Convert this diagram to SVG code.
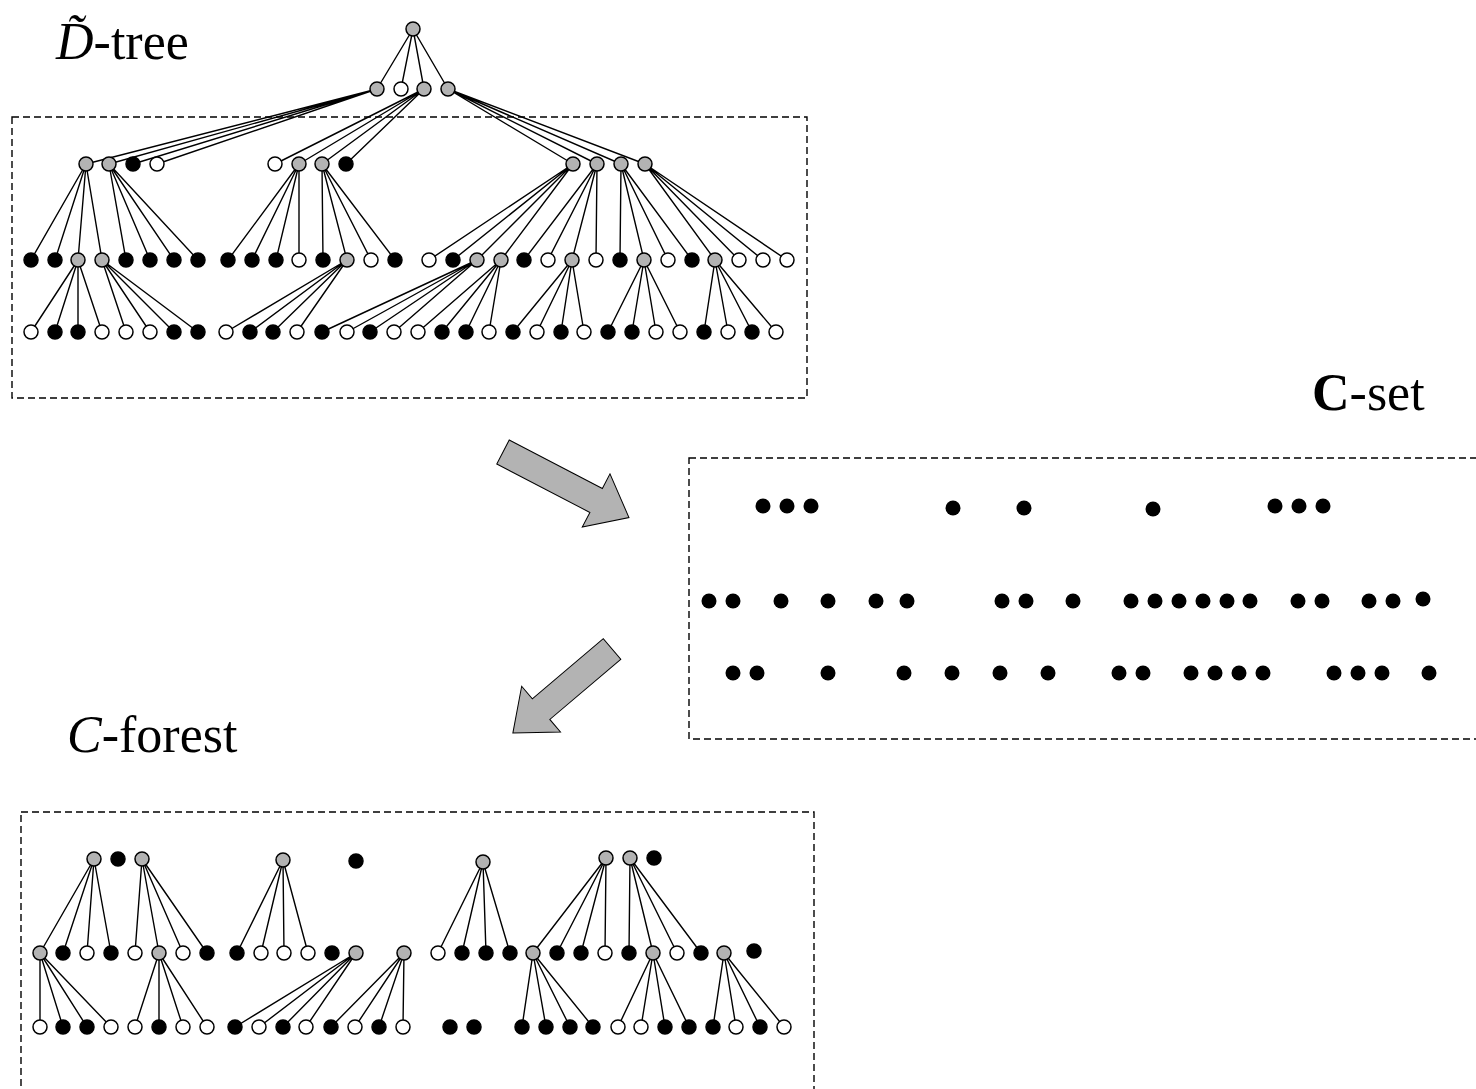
<svg xmlns="http://www.w3.org/2000/svg" width="1476" height="1089" viewBox="0 0 1476 1089">
<style>
.g{fill:#b3b3b3;stroke:#000;stroke-width:1.5}
.w{fill:#fff;stroke:#000;stroke-width:1.5}
.b{fill:#000;stroke:#000;stroke-width:1.5}
.d{fill:#000}
.box{fill:none;stroke:#000;stroke-width:1.4;stroke-dasharray:7,4}
.arrow{fill:#b3b3b3;stroke:#000;stroke-width:1}
.lbl{font-family:"Liberation Serif","Times New Roman",serif;font-size:52px;fill:#000}
#connectors path{fill:none;stroke:#000;stroke-width:1.4}
</style>
<rect width="1476" height="1089" fill="#fff"/>
<rect class="box" x="12" y="117" width="795" height="281"/>
<rect class="box" x="689" y="458" width="800" height="281"/>
<rect class="box" x="21" y="812" width="793" height="290"/>
<g id="label-dtree"><text class="lbl" x="56" y="59"><tspan font-style="italic">D&#x303;</tspan>-tree</text></g>
<g id="label-cset"><text class="lbl" x="1312" y="410"><tspan font-weight="bold">C</tspan>-set</text></g>
<g id="label-cforest"><text class="lbl" x="67" y="752"><tspan font-style="italic">C</tspan>-forest</text></g>
<g id="arrow1"><polygon class="arrow" transform="translate(503,452) rotate(27.5)" points="0,-13.5 105,-13.5 105,-30 142,0 105,30 105,13.5 0,13.5"/></g>
<g id="arrow2"><polygon class="arrow" transform="translate(612,649) rotate(139.7)" points="0,-13.5 93,-13.5 93,-30 130,0 93,30 93,13.5 0,13.5"/></g>
<g id="connectors">
<path d="M413,29L377,89M413,29L401,89M413,29L424,89M413,29L448,89"/>
<path d="M377,89L86,164M377,89L109,164M377,89L133,164M377,89L157,164"/>
<path d="M424,89L275,164M424,89L299,164M424,89L322,164M424,89L346,164"/>
<path d="M448,89L573,164M448,89L597,164M448,89L621,164M448,89L645,164"/>
<path d="M86,164L31,260M86,164L55,260M86,164L78,260M86,164L102,260"/>
<path d="M109,164L126,260M109,164L150,260M109,164L174,260M109,164L198,260"/>
<path d="M299,164L228,260M299,164L252,260M299,164L276,260M299,164L299,260"/>
<path d="M322,164L323,260M322,164L347,260M322,164L371,260M322,164L395,260"/>
<path d="M573,164L429,260M573,164L453,260M573,164L477,260M573,164L501,260"/>
<path d="M597,164L524,260M597,164L548,260M597,164L572,260M597,164L596,260"/>
<path d="M621,164L620,260M621,164L644,260M621,164L668,260M621,164L692,260"/>
<path d="M645,164L715,260M645,164L739,260M645,164L763,260M645,164L787,260"/>
<path d="M78,260L31,332M78,260L55,332M78,260L78,332M78,260L102,332"/>
<path d="M102,260L126,332M102,260L150,332M102,260L174,332M102,260L198,332"/>
<path d="M347,260L226,332M347,260L250,332M347,260L273,332M347,260L297,332"/>
<path d="M477,260L322,332M477,260L347,332M477,260L370,332M477,260L394,332"/>
<path d="M501,260L418,332M501,260L442,332M501,260L466,332M501,260L489,332"/>
<path d="M572,260L513,332M572,260L537,332M572,260L561,332M572,260L584,332"/>
<path d="M644,260L608,332M644,260L632,332M644,260L656,332M644,260L680,332"/>
<path d="M715,260L704,332M715,260L728,332M715,260L752,332M715,260L776,332"/>
<path d="M94,859L40,953M94,859L63,953M94,859L87,953M94,859L111,953"/>
<path d="M142,859L135,953M142,859L159,953M142,859L183,953M142,859L207,953"/>
<path d="M283,860L237,953M283,860L261,953M283,860L284,953M283,860L308,953"/>
<path d="M483,862L438,953M483,862L462,953M483,862L486,953M483,862L510,953"/>
<path d="M606,858L533,953M606,858L557,953M606,858L581,953M606,858L605,953"/>
<path d="M630,858L629,953M630,858L653,953M630,858L677,953M630,858L701,953"/>
<path d="M40,953L40,1027M40,953L63,1027M40,953L87,1027M40,953L111,1027"/>
<path d="M159,953L135,1027M159,953L159,1027M159,953L183,1027M159,953L207,1027"/>
<path d="M356,953L235,1027M356,953L259,1027M356,953L283,1027M356,953L306,1027"/>
<path d="M404,953L331,1027M404,953L355,1027M404,953L379,1027M404,953L403,1027"/>
<path d="M533,953L522,1027M533,953L546,1027M533,953L570,1027M533,953L593,1027"/>
<path d="M653,953L618,1027M653,953L641,1027M653,953L665,1027M653,953L689,1027"/>
<path d="M724,953L713,1027M724,953L736,1027M724,953L760,1027M724,953L784,1027"/>
</g>
<g id="tree-nodes">
<g id="t0"><circle class="g" cx="413" cy="29" r="7"/></g>
<g id="t1-377"><circle class="g" cx="377" cy="89" r="7"/></g>
<g id="t1-401"><circle class="w" cx="401" cy="89" r="7"/></g>
<g id="t1-424"><circle class="g" cx="424" cy="89" r="7"/></g>
<g id="t1-448"><circle class="g" cx="448" cy="89" r="7"/></g>
<g id="t2-86"><circle class="g" cx="86" cy="164" r="7"/></g>
<g id="t2-109"><circle class="g" cx="109" cy="164" r="7"/></g>
<g id="t2-133"><circle class="b" cx="133" cy="164" r="7"/></g>
<g id="t2-157"><circle class="w" cx="157" cy="164" r="7"/></g>
<g id="t2-275"><circle class="w" cx="275" cy="164" r="7"/></g>
<g id="t2-299"><circle class="g" cx="299" cy="164" r="7"/></g>
<g id="t2-322"><circle class="g" cx="322" cy="164" r="7"/></g>
<g id="t2-346"><circle class="b" cx="346" cy="164" r="7"/></g>
<g id="t2-573"><circle class="g" cx="573" cy="164" r="7"/></g>
<g id="t2-597"><circle class="g" cx="597" cy="164" r="7"/></g>
<g id="t2-621"><circle class="g" cx="621" cy="164" r="7"/></g>
<g id="t2-645"><circle class="g" cx="645" cy="164" r="7"/></g>
<g id="t3-31"><circle class="b" cx="31" cy="260" r="7"/></g>
<g id="t3-55"><circle class="b" cx="55" cy="260" r="7"/></g>
<g id="t3-78"><circle class="g" cx="78" cy="260" r="7"/></g>
<g id="t3-102"><circle class="g" cx="102" cy="260" r="7"/></g>
<g id="t3-126"><circle class="b" cx="126" cy="260" r="7"/></g>
<g id="t3-150"><circle class="b" cx="150" cy="260" r="7"/></g>
<g id="t3-174"><circle class="b" cx="174" cy="260" r="7"/></g>
<g id="t3-198"><circle class="b" cx="198" cy="260" r="7"/></g>
<g id="t3-228"><circle class="b" cx="228" cy="260" r="7"/></g>
<g id="t3-252"><circle class="b" cx="252" cy="260" r="7"/></g>
<g id="t3-276"><circle class="b" cx="276" cy="260" r="7"/></g>
<g id="t3-299"><circle class="w" cx="299" cy="260" r="7"/></g>
<g id="t3-323"><circle class="b" cx="323" cy="260" r="7"/></g>
<g id="t3-347"><circle class="g" cx="347" cy="260" r="7"/></g>
<g id="t3-371"><circle class="w" cx="371" cy="260" r="7"/></g>
<g id="t3-395"><circle class="b" cx="395" cy="260" r="7"/></g>
<g id="t3-429"><circle class="w" cx="429" cy="260" r="7"/></g>
<g id="t3-453"><circle class="b" cx="453" cy="260" r="7"/></g>
<g id="t3-477"><circle class="g" cx="477" cy="260" r="7"/></g>
<g id="t3-501"><circle class="g" cx="501" cy="260" r="7"/></g>
<g id="t3-524"><circle class="b" cx="524" cy="260" r="7"/></g>
<g id="t3-548"><circle class="w" cx="548" cy="260" r="7"/></g>
<g id="t3-572"><circle class="g" cx="572" cy="260" r="7"/></g>
<g id="t3-596"><circle class="w" cx="596" cy="260" r="7"/></g>
<g id="t3-620"><circle class="b" cx="620" cy="260" r="7"/></g>
<g id="t3-644"><circle class="g" cx="644" cy="260" r="7"/></g>
<g id="t3-668"><circle class="w" cx="668" cy="260" r="7"/></g>
<g id="t3-692"><circle class="b" cx="692" cy="260" r="7"/></g>
<g id="t3-715"><circle class="g" cx="715" cy="260" r="7"/></g>
<g id="t3-739"><circle class="w" cx="739" cy="260" r="7"/></g>
<g id="t3-763"><circle class="w" cx="763" cy="260" r="7"/></g>
<g id="t3-787"><circle class="w" cx="787" cy="260" r="7"/></g>
<g id="t4-31"><circle class="w" cx="31" cy="332" r="7"/></g>
<g id="t4-55"><circle class="b" cx="55" cy="332" r="7"/></g>
<g id="t4-78"><circle class="b" cx="78" cy="332" r="7"/></g>
<g id="t4-102"><circle class="w" cx="102" cy="332" r="7"/></g>
<g id="t4-126"><circle class="w" cx="126" cy="332" r="7"/></g>
<g id="t4-150"><circle class="w" cx="150" cy="332" r="7"/></g>
<g id="t4-174"><circle class="b" cx="174" cy="332" r="7"/></g>
<g id="t4-198"><circle class="b" cx="198" cy="332" r="7"/></g>
<g id="t4-226"><circle class="w" cx="226" cy="332" r="7"/></g>
<g id="t4-250"><circle class="b" cx="250" cy="332" r="7"/></g>
<g id="t4-273"><circle class="b" cx="273" cy="332" r="7"/></g>
<g id="t4-297"><circle class="w" cx="297" cy="332" r="7"/></g>
<g id="t4-322"><circle class="b" cx="322" cy="332" r="7"/></g>
<g id="t4-347"><circle class="w" cx="347" cy="332" r="7"/></g>
<g id="t4-370"><circle class="b" cx="370" cy="332" r="7"/></g>
<g id="t4-394"><circle class="w" cx="394" cy="332" r="7"/></g>
<g id="t4-418"><circle class="w" cx="418" cy="332" r="7"/></g>
<g id="t4-442"><circle class="b" cx="442" cy="332" r="7"/></g>
<g id="t4-466"><circle class="b" cx="466" cy="332" r="7"/></g>
<g id="t4-489"><circle class="w" cx="489" cy="332" r="7"/></g>
<g id="t4-513"><circle class="b" cx="513" cy="332" r="7"/></g>
<g id="t4-537"><circle class="w" cx="537" cy="332" r="7"/></g>
<g id="t4-561"><circle class="b" cx="561" cy="332" r="7"/></g>
<g id="t4-584"><circle class="w" cx="584" cy="332" r="7"/></g>
<g id="t4-608"><circle class="b" cx="608" cy="332" r="7"/></g>
<g id="t4-632"><circle class="b" cx="632" cy="332" r="7"/></g>
<g id="t4-656"><circle class="w" cx="656" cy="332" r="7"/></g>
<g id="t4-680"><circle class="w" cx="680" cy="332" r="7"/></g>
<g id="t4-704"><circle class="b" cx="704" cy="332" r="7"/></g>
<g id="t4-728"><circle class="w" cx="728" cy="332" r="7"/></g>
<g id="t4-752"><circle class="b" cx="752" cy="332" r="7"/></g>
<g id="t4-776"><circle class="w" cx="776" cy="332" r="7"/></g>
</g>
<g id="cset-nodes">
<g id="c1-763"><circle class="d" cx="763" cy="506" r="7.5"/></g>
<g id="c1-787"><circle class="d" cx="787" cy="506" r="7.5"/></g>
<g id="c1-811"><circle class="d" cx="811" cy="506" r="7.5"/></g>
<g id="c1-953"><circle class="d" cx="953" cy="508" r="7.5"/></g>
<g id="c1-1024"><circle class="d" cx="1024" cy="508" r="7.5"/></g>
<g id="c1-1153"><circle class="d" cx="1153" cy="509" r="7.5"/></g>
<g id="c1-1275"><circle class="d" cx="1275" cy="506" r="7.5"/></g>
<g id="c1-1299"><circle class="d" cx="1299" cy="506" r="7.5"/></g>
<g id="c1-1323"><circle class="d" cx="1323" cy="506" r="7.5"/></g>
<g id="c2-709"><circle class="d" cx="709" cy="601" r="7.5"/></g>
<g id="c2-733"><circle class="d" cx="733" cy="601" r="7.5"/></g>
<g id="c2-781"><circle class="d" cx="781" cy="601" r="7.5"/></g>
<g id="c2-828"><circle class="d" cx="828" cy="601" r="7.5"/></g>
<g id="c2-876"><circle class="d" cx="876" cy="601" r="7.5"/></g>
<g id="c2-907"><circle class="d" cx="907" cy="601" r="7.5"/></g>
<g id="c2-1002"><circle class="d" cx="1002" cy="601" r="7.5"/></g>
<g id="c2-1026"><circle class="d" cx="1026" cy="601" r="7.5"/></g>
<g id="c2-1073"><circle class="d" cx="1073" cy="601" r="7.5"/></g>
<g id="c2-1131"><circle class="d" cx="1131" cy="601" r="7.5"/></g>
<g id="c2-1155"><circle class="d" cx="1155" cy="601" r="7.5"/></g>
<g id="c2-1179"><circle class="d" cx="1179" cy="601" r="7.5"/></g>
<g id="c2-1203"><circle class="d" cx="1203" cy="601" r="7.5"/></g>
<g id="c2-1227"><circle class="d" cx="1227" cy="601" r="7.5"/></g>
<g id="c2-1250"><circle class="d" cx="1250" cy="601" r="7.5"/></g>
<g id="c2-1298"><circle class="d" cx="1298" cy="601" r="7.5"/></g>
<g id="c2-1322"><circle class="d" cx="1322" cy="601" r="7.5"/></g>
<g id="c2-1369"><circle class="d" cx="1369" cy="601" r="7.5"/></g>
<g id="c2-1393"><circle class="d" cx="1393" cy="601" r="7.5"/></g>
<g id="c2-1423"><circle class="d" cx="1423" cy="599" r="7.5"/></g>
<g id="c3-733"><circle class="d" cx="733" cy="673" r="7.5"/></g>
<g id="c3-757"><circle class="d" cx="757" cy="673" r="7.5"/></g>
<g id="c3-828"><circle class="d" cx="828" cy="673" r="7.5"/></g>
<g id="c3-904"><circle class="d" cx="904" cy="673" r="7.5"/></g>
<g id="c3-952"><circle class="d" cx="952" cy="673" r="7.5"/></g>
<g id="c3-1000"><circle class="d" cx="1000" cy="673" r="7.5"/></g>
<g id="c3-1048"><circle class="d" cx="1048" cy="673" r="7.5"/></g>
<g id="c3-1119"><circle class="d" cx="1119" cy="673" r="7.5"/></g>
<g id="c3-1143"><circle class="d" cx="1143" cy="673" r="7.5"/></g>
<g id="c3-1191"><circle class="d" cx="1191" cy="673" r="7.5"/></g>
<g id="c3-1215"><circle class="d" cx="1215" cy="673" r="7.5"/></g>
<g id="c3-1239"><circle class="d" cx="1239" cy="673" r="7.5"/></g>
<g id="c3-1263"><circle class="d" cx="1263" cy="673" r="7.5"/></g>
<g id="c3-1334"><circle class="d" cx="1334" cy="673" r="7.5"/></g>
<g id="c3-1358"><circle class="d" cx="1358" cy="673" r="7.5"/></g>
<g id="c3-1382"><circle class="d" cx="1382" cy="673" r="7.5"/></g>
<g id="c3-1429"><circle class="d" cx="1429" cy="673" r="7.5"/></g>
</g>
<g id="forest-nodes">
<g id="fa-94"><circle class="g" cx="94" cy="859" r="7"/></g>
<g id="fa-118"><circle class="b" cx="118" cy="859" r="7"/></g>
<g id="fa-142"><circle class="g" cx="142" cy="859" r="7"/></g>
<g id="fa-283"><circle class="g" cx="283" cy="860" r="7"/></g>
<g id="fa-356"><circle class="b" cx="356" cy="861" r="7"/></g>
<g id="fa-483"><circle class="g" cx="483" cy="862" r="7"/></g>
<g id="fa-606"><circle class="g" cx="606" cy="858" r="7"/></g>
<g id="fa-630"><circle class="g" cx="630" cy="858" r="7"/></g>
<g id="fa-654"><circle class="b" cx="654" cy="858" r="7"/></g>
<g id="fb-40"><circle class="g" cx="40" cy="953" r="7"/></g>
<g id="fb-63"><circle class="b" cx="63" cy="953" r="7"/></g>
<g id="fb-87"><circle class="w" cx="87" cy="953" r="7"/></g>
<g id="fb-111"><circle class="b" cx="111" cy="953" r="7"/></g>
<g id="fb-135"><circle class="w" cx="135" cy="953" r="7"/></g>
<g id="fb-159"><circle class="g" cx="159" cy="953" r="7"/></g>
<g id="fb-183"><circle class="w" cx="183" cy="953" r="7"/></g>
<g id="fb-207"><circle class="b" cx="207" cy="953" r="7"/></g>
<g id="fb-237"><circle class="b" cx="237" cy="953" r="7"/></g>
<g id="fb-261"><circle class="w" cx="261" cy="953" r="7"/></g>
<g id="fb-284"><circle class="w" cx="284" cy="953" r="7"/></g>
<g id="fb-308"><circle class="w" cx="308" cy="953" r="7"/></g>
<g id="fb-332"><circle class="b" cx="332" cy="953" r="7"/></g>
<g id="fb-356"><circle class="g" cx="356" cy="953" r="7"/></g>
<g id="fb-404"><circle class="g" cx="404" cy="953" r="7"/></g>
<g id="fb-438"><circle class="w" cx="438" cy="953" r="7"/></g>
<g id="fb-462"><circle class="b" cx="462" cy="953" r="7"/></g>
<g id="fb-486"><circle class="b" cx="486" cy="953" r="7"/></g>
<g id="fb-510"><circle class="b" cx="510" cy="953" r="7"/></g>
<g id="fb-533"><circle class="g" cx="533" cy="953" r="7"/></g>
<g id="fb-557"><circle class="b" cx="557" cy="953" r="7"/></g>
<g id="fb-581"><circle class="b" cx="581" cy="953" r="7"/></g>
<g id="fb-605"><circle class="w" cx="605" cy="953" r="7"/></g>
<g id="fb-629"><circle class="b" cx="629" cy="953" r="7"/></g>
<g id="fb-653"><circle class="g" cx="653" cy="953" r="7"/></g>
<g id="fb-677"><circle class="w" cx="677" cy="953" r="7"/></g>
<g id="fb-701"><circle class="b" cx="701" cy="953" r="7"/></g>
<g id="fb-724"><circle class="g" cx="724" cy="953" r="7"/></g>
<g id="fb-754"><circle class="b" cx="754" cy="951" r="7"/></g>
<g id="fc-40"><circle class="w" cx="40" cy="1027" r="7"/></g>
<g id="fc-63"><circle class="b" cx="63" cy="1027" r="7"/></g>
<g id="fc-87"><circle class="b" cx="87" cy="1027" r="7"/></g>
<g id="fc-111"><circle class="w" cx="111" cy="1027" r="7"/></g>
<g id="fc-135"><circle class="w" cx="135" cy="1027" r="7"/></g>
<g id="fc-159"><circle class="b" cx="159" cy="1027" r="7"/></g>
<g id="fc-183"><circle class="w" cx="183" cy="1027" r="7"/></g>
<g id="fc-207"><circle class="w" cx="207" cy="1027" r="7"/></g>
<g id="fc-235"><circle class="b" cx="235" cy="1027" r="7"/></g>
<g id="fc-259"><circle class="w" cx="259" cy="1027" r="7"/></g>
<g id="fc-283"><circle class="b" cx="283" cy="1027" r="7"/></g>
<g id="fc-306"><circle class="w" cx="306" cy="1027" r="7"/></g>
<g id="fc-331"><circle class="b" cx="331" cy="1027" r="7"/></g>
<g id="fc-355"><circle class="w" cx="355" cy="1027" r="7"/></g>
<g id="fc-379"><circle class="b" cx="379" cy="1027" r="7"/></g>
<g id="fc-403"><circle class="w" cx="403" cy="1027" r="7"/></g>
<g id="fc-450"><circle class="b" cx="450" cy="1027" r="7"/></g>
<g id="fc-474"><circle class="b" cx="474" cy="1027" r="7"/></g>
<g id="fc-522"><circle class="b" cx="522" cy="1027" r="7"/></g>
<g id="fc-546"><circle class="b" cx="546" cy="1027" r="7"/></g>
<g id="fc-570"><circle class="b" cx="570" cy="1027" r="7"/></g>
<g id="fc-593"><circle class="b" cx="593" cy="1027" r="7"/></g>
<g id="fc-618"><circle class="w" cx="618" cy="1027" r="7"/></g>
<g id="fc-641"><circle class="w" cx="641" cy="1027" r="7"/></g>
<g id="fc-665"><circle class="b" cx="665" cy="1027" r="7"/></g>
<g id="fc-689"><circle class="b" cx="689" cy="1027" r="7"/></g>
<g id="fc-713"><circle class="b" cx="713" cy="1027" r="7"/></g>
<g id="fc-736"><circle class="w" cx="736" cy="1027" r="7"/></g>
<g id="fc-760"><circle class="b" cx="760" cy="1027" r="7"/></g>
<g id="fc-784"><circle class="w" cx="784" cy="1027" r="7"/></g>
</g>
</svg>
